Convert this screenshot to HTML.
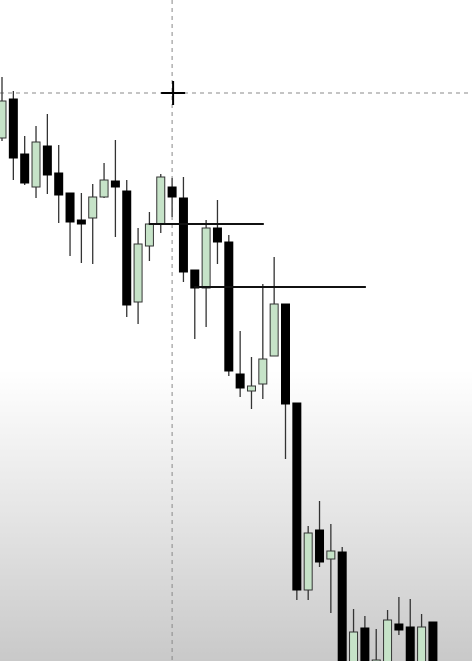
<!DOCTYPE html>
<html><head><meta charset="utf-8"><style>
html,body{margin:0;padding:0;width:472px;height:661px;overflow:hidden;}
body{background:linear-gradient(to bottom,#fff 0px,#fff 370px,#e4e4e4 520px,#c9c9c9 661px);position:relative;}
svg{position:absolute;left:0;top:0;overflow:hidden;display:block;}
</style></head><body>
<svg id="chart" width="472" height="661" viewBox="0 0 472 661"></svg>
<script>
const openP  = [562,601,546,513,554,527,507,480,482,503,519,509,398,454,476,513,502,430,412,472,458,326,309,316,344,396,297,110,170,141,148,20,72,10,20,76,73,20,78];
const closeP = [599,542,517,558,525,505,478,476,503,520,513,395,456,476,523,503,428,412,472,458,329,312,314,341,396,296,110,167,138,149,20,68,20,40,80,70,20,73,20];
const highP  = [623,609,564,574,586,555,507,507,516,537,560,520,472,488,526,522,523,430,480,500,465,369,343,416,443,396,297,174,199,176,153,91,84,71,90,103,101,86,78];
const lowP   = [559,520,515,502,506,477,444,437,436,502,463,383,376,439,467,483,418,361,373,436,324,303,291,301,344,241,100,100,133,87,10,10,10,5,10,65,10,10,10];
const levels = [{p:476,from:14,to:23},{p:413,from:18,to:32}];
const crossPrice = 607, crossIndex = 15;

const NS="http://www.w3.org/2000/svg";
const svg=document.getElementById('chart');
const xs=i=>2+i*11.34;
const ys=p=>Math.min(700-p,664);
function mk(tag,attrs){const e=document.createElementNS(NS,tag);for(const k in attrs)e.setAttribute(k,attrs[k]);svg.appendChild(e);return e;}

let v=mk('line',{x1:xs(crossIndex),x2:xs(crossIndex),y1:0,y2:661,stroke:'#888','stroke-width':1,'stroke-dasharray':'4,4'});


let h=mk('line',{x1:0,x2:472,y1:ys(crossPrice),y2:ys(crossPrice),stroke:'#888','stroke-width':1,'stroke-dasharray':'4,4'});



for(let i=0;i<openP.length;i++){
  const o=openP[i],c=closeP[i],bull=c>=o;
  const g=mk('g',{});
  
  
  const x=xs(i);
  const w=document.createElementNS(NS,'line');
  w.setAttribute('x1',x);w.setAttribute('x2',x);w.setAttribute('y1',ys(highP[i]));w.setAttribute('y2',ys(lowP[i]));
  w.setAttribute('stroke','#333');w.setAttribute('stroke-width','1.3');
  
  
  g.appendChild(w);
  const top=ys(Math.max(o,c)),bot=ys(Math.min(o,c));
  const r=document.createElementNS(NS,'rect');
  r.setAttribute('x',x-4);r.setAttribute('y',top);r.setAttribute('width',8);r.setAttribute('height',Math.max(bot-top,2));
  r.setAttribute('fill',bull?'#c6e3c8':'#000');r.setAttribute('stroke',bull?'#333':'#000');r.setAttribute('stroke-width','1');
  
  
  g.appendChild(r);
}
levels.forEach((l,k)=>{
  const e=mk('line',{x1:xs(l.from)-12,x2:xs(l.to)+1,y1:ys(l.p),y2:ys(l.p),stroke:'#111','stroke-width':2});
  
  
});
const cx=xs(crossIndex)+1,cy=ys(crossPrice);
let c1=mk('line',{x1:cx-12,x2:cx+12,y1:cy,y2:cy,stroke:'#000','stroke-width':2});


let c2=mk('line',{x1:cx,x2:cx,y1:cy-12,y2:cy+12,stroke:'#000','stroke-width':2});


</script>
</body></html>
